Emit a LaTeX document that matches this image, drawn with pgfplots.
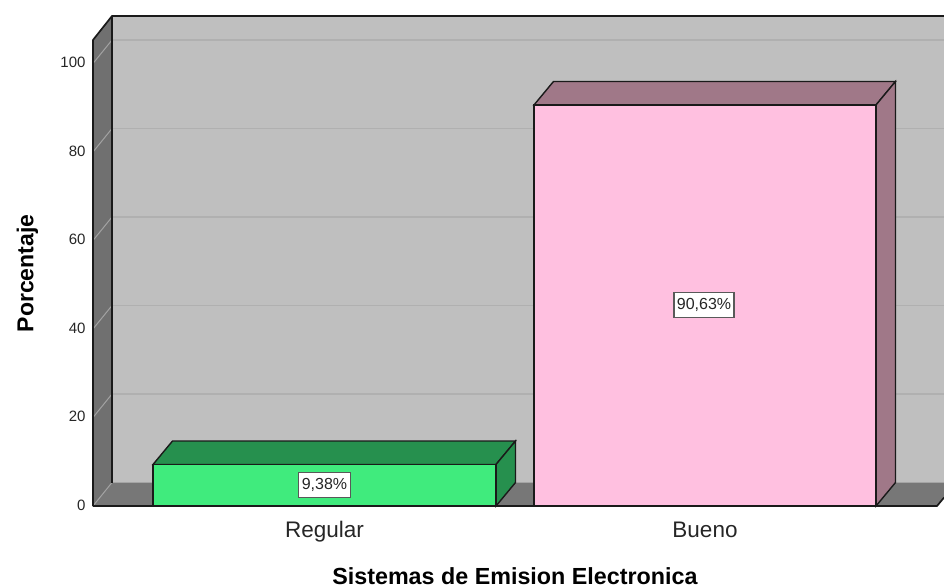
\documentclass[border=0pt]{standalone}
\usepackage{fontspec}
\setmainfont{Liberation Sans}
\usepackage{pgfplots}
\pgfplotsset{compat=1.18}
\definecolor{wall}{HTML}{BFBFBF}
\definecolor{side}{HTML}{707070}
\definecolor{floorc}{HTML}{777777}
\definecolor{gridb}{HTML}{B0B0B0}
\definecolor{grids}{HTML}{A2A2A2}
\definecolor{greenf}{HTML}{40EB7D}
\definecolor{greent}{HTML}{26904E}
\definecolor{pinkf}{HTML}{FFC0E0}
\definecolor{pinkt}{HTML}{A07888}
\definecolor{edge}{HTML}{1A1A1A}
\begin{document}
\begin{tikzpicture}
\path[use as bounding box] (-93pt,-81pt) rectangle (851pt,506pt);
\begin{axis}[
  at={(0pt,0pt)}, anchor=origin,
  scale only axis, width=851pt, height=466pt,
  xmin=93, xmax=944, ymin=0, ymax=105.31,
  clip=false,
  axis line style={draw=none},
  major tick length=0pt,
  tick style={draw=none},
  xtick={324.5,705}, xticklabels={Regular,Bueno},
  ytick={0,20,40,60,80,100},
  /pgf/number format/assume math mode=true,
  tick label style={text=black!85},
  x tick label style={anchor=center, yshift=-25.5pt, text height=16pt, text depth=5pt, font=\fontsize{22.5}{24}\selectfont},
  y tick label style={anchor=east, xshift=-4pt, yshift=1pt, font=\fontsize{15}{16}\selectfont},
  xlabel={\textbf{Sistemas de Emision Electronica}},
  ylabel={\textbf{Porcentaje}},
  every axis x label/.style={at={(axis cs:515,-15.8)}, anchor=center, inner sep=0pt, font=\fontsize{23.3}{24}\selectfont},
  every axis y label/.style={at={(axis cs:27.5,52.55)}, anchor=center, inner sep=0pt, rotate=90, font=\fontsize{23}{24}\selectfont},
]
% back wall
\addplot[fill=wall, draw=none] coordinates {(112,5.31) (112,110.73) (944,110.73) (944,5.31)} --cycle;
% side wall
\addplot[fill=side, draw=none] coordinates {(93,0) (93,105.31) (112,110.73) (112,5.31)} --cycle;
% floor
\addplot[fill=floorc, draw=none] coordinates {(93,0) (112,5.31) (944,5.31) (944,1.9) (937,0)} --cycle;
% grid on back wall
\addplot[gridb, line width=1.5pt] coordinates {(112,25.31) (944,25.31)};
\addplot[gridb, line width=1.5pt] coordinates {(112,45.31) (944,45.31)};
\addplot[gridb, line width=1.5pt] coordinates {(112,65.31) (944,65.31)};
\addplot[gridb, line width=1.5pt] coordinates {(112,85.31) (944,85.31)};
\addplot[gridb, line width=1.5pt] coordinates {(112,105.31) (944,105.31)};
% grid on side wall
\addplot[grids, line width=1pt] coordinates {(93,0) (112,5.31)};
\addplot[grids, line width=1pt] coordinates {(93,20) (112,25.31)};
\addplot[grids, line width=1pt] coordinates {(93,40) (112,45.31)};
\addplot[grids, line width=1pt] coordinates {(93,60) (112,65.31)};
\addplot[grids, line width=1pt] coordinates {(93,80) (112,85.31)};
\addplot[grids, line width=1pt] coordinates {(93,100) (112,105.31)};
% frame
\addplot[edge, line width=1.7pt] coordinates {(93,0) (93,105.31) (112,110.73) (944,110.73)};
\addplot[edge, line width=2pt] coordinates {(112,5.31) (112,110.73)};
\addplot[edge, line width=1.7pt] coordinates {(93,0) (937,0) (944,1.9)};
% Regular bar
\addplot[fill=greent, draw=edge, line width=1.4pt] coordinates {(153,9.38) (172.5,14.69) (515.5,14.69) (496,9.38)} --cycle;
\addplot[fill=greent, draw=edge, line width=1.4pt] coordinates {(496,0) (496,9.38) (515.5,14.69) (515.5,5.31)} --cycle;
\addplot[fill=greenf, draw=edge, line width=1.4pt] coordinates {(153,0) (153,9.38) (496,9.38) (496,0)} --cycle;
% Bueno bar
\addplot[fill=pinkt, draw=edge, line width=1.4pt] coordinates {(534,90.63) (553.5,95.94) (895.5,95.94) (876,90.63)} --cycle;
\addplot[fill=pinkt, draw=edge, line width=1.4pt] coordinates {(876,0) (876,90.63) (895.5,95.94) (895.5,5.31)} --cycle;
\addplot[fill=pinkf, draw=edge, line width=1.4pt] coordinates {(534,0) (534,90.63) (876,90.63) (876,0)} --cycle;
% value labels
\addplot[draw=none, mark=none, point meta=explicit symbolic,
  nodes near coords, nodes near coords align=center,
  every node near coord/.append style={fill=white, draw=black!65, line width=1.3pt, text=black!85,
    font=\fontsize{16}{16}\selectfont, inner xsep=3pt, inner ysep=0pt, minimum height=25pt, anchor=center}]
  coordinates {(324.5,4.75)[9,38\%] (704,45.4)[90,63\%]};
\end{axis}
\end{tikzpicture}
\end{document}
